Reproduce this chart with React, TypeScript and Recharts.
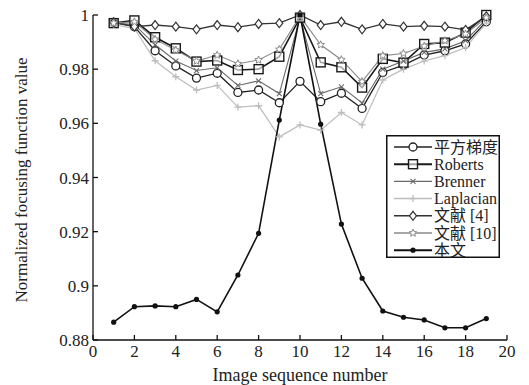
import { LineChart, Line, XAxis, YAxis, Legend } from 'recharts'

const seq = [1, 2, 3, 4, 5, 6, 7, 8, 9, 10, 11, 12, 13, 14, 15, 16, 17, 18, 19]

const squareGrad = [0.9973, 0.9957, 0.9868, 0.9812, 0.9767, 0.9785, 0.9714, 0.9723, 0.9676, 0.9755, 0.968, 0.9711, 0.9655, 0.9788, 0.9815, 0.9852, 0.9868, 0.9893, 0.9975]
const roberts = [0.997, 0.998, 0.9918, 0.9877, 0.9828, 0.9832, 0.9797, 0.98, 0.9846, 0.999, 0.9825, 0.9807, 0.9732, 0.9838, 0.9824, 0.9893, 0.9898, 0.9935, 1.0]
const brenner = [0.997, 0.9965, 0.989, 0.983, 0.9795, 0.9805, 0.974, 0.9757, 0.971, 0.999, 0.971, 0.9735, 0.9675, 0.98, 0.983, 0.9862, 0.9875, 0.9905, 0.9985]
const laplacian = [0.9965, 0.995, 0.9831, 0.9772, 0.9723, 0.974, 0.966, 0.9665, 0.955, 0.9594, 0.9575, 0.964, 0.9594, 0.976, 0.98, 0.983, 0.985, 0.988, 0.997]
const ref4 = [0.9973, 0.9957, 0.9963, 0.9957, 0.9947, 0.9963, 0.9955, 0.9967, 0.997, 1.0, 0.9963, 0.9975, 0.9947, 0.9967, 0.9957, 0.996, 0.9957, 0.9945, 0.9995]
const ref10 = [0.997, 0.9975, 0.991, 0.987, 0.983, 0.9852, 0.982, 0.9834, 0.9873, 0.9995, 0.989, 0.9835, 0.9754, 0.985, 0.9858, 0.9885, 0.9905, 0.993, 0.999]
const ours = [0.8866, 0.8923, 0.8926, 0.8923, 0.895, 0.8904, 0.904, 0.9194, 0.9612, 1.0, 0.9597, 0.9228, 0.9028, 0.8907, 0.8884, 0.8874, 0.8845, 0.8845, 0.8879]

const xTicks = [0, 2, 4, 6, 8, 10, 12, 14, 16, 18, 20]
const yTicks = [0.88, 0.9, 0.92, 0.94, 0.96, 0.98, 1]

const data = seq.map((n, i) => ({
  n,
  sq: squareGrad[i],
  rob: roberts[i],
  bren: brenner[i],
  lap: laplacian[i],
  r4: ref4[i],
  r10: ref10[i],
  ours: ours[i],
}))

type Shape = 'circle' | 'square' | 'cross' | 'plus' | 'diamond' | 'star' | 'dot'

const series: { key: string; name: string; color: string; shape: Shape; width: number }[] = [
  { key: 'sq', name: '平方梯度', color: '#222', shape: 'circle', width: 1.3 },
  { key: 'rob', name: 'Roberts', color: '#1a1a1a', shape: 'square', width: 1.6 },
  { key: 'bren', name: 'Brenner', color: '#6a6a6a', shape: 'cross', width: 1.1 },
  { key: 'lap', name: 'Laplacian', color: '#bdbdbd', shape: 'plus', width: 1.2 },
  { key: 'r4', name: '文献 [4]', color: '#333', shape: 'diamond', width: 1.3 },
  { key: 'r10', name: '文献 [10]', color: '#8a8a8a', shape: 'star', width: 1.1 },
  { key: 'ours', name: '本文', color: '#111', shape: 'dot', width: 1.6 },
]

const FONT = 'Liberation Serif, Noto Sans CJK SC, serif'

function Marker({ cx, cy, shape, color }: { cx: number; cy: number; shape: Shape; color: string }) {
  switch (shape) {
    case 'circle':
      return <circle cx={cx} cy={cy} r={4} fill="#fff" stroke={color} strokeWidth={1.3} />
    case 'square':
      return <rect x={cx - 4.5} y={cy - 4.5} width={9} height={9} fill="#fff" fillOpacity={0.6} stroke={color} strokeWidth={1.4} />
    case 'cross':
      return <path d={`M${cx - 2.5},${cy - 2.5}L${cx + 2.5},${cy + 2.5}M${cx - 2.5},${cy + 2.5}L${cx + 2.5},${cy - 2.5}`} stroke={color} strokeWidth={1.1} />
    case 'plus':
      return <path d={`M${cx - 3.5},${cy}L${cx + 3.5},${cy}M${cx},${cy - 3.5}L${cx},${cy + 3.5}`} stroke={color} strokeWidth={1.3} />
    case 'diamond':
      return <path d={`M${cx},${cy - 4.5}L${cx + 3.5},${cy}L${cx},${cy + 4.5}L${cx - 3.5},${cy}Z`} fill="#fff" stroke={color} strokeWidth={1.2} />
    case 'star': {
      const pts: string[] = []
      for (let k = 0; k < 10; k++) {
        const r = k % 2 === 0 ? 4 : 1.8
        const a = -Math.PI / 2 + (k * Math.PI) / 5
        pts.push(`${cx + r * Math.cos(a)},${cy + r * Math.sin(a)}`)
      }
      return <polygon points={pts.join(' ')} fill="#fff" stroke={color} strokeWidth={1} />
    }
    default:
      return <circle cx={cx} cy={cy} r={2.6} fill={color} />
  }
}

// legend drawn as svg so the text uses the same fonts as the axes
const renderLegend = () => (
  <svg width={114} height={123} style={{ display: 'block' }}>
    <rect x={0.75} y={0.75} width={112.5} height={121.5} fill="#fff" stroke="#111" strokeWidth={1.5} />
    {series.map((s, i) => {
      const y = 12 + i * 17.2
      return (
        <g key={s.key}>
          <line x1={8} x2={46} y1={y} y2={y} stroke={s.color} strokeWidth={s.width + 0.3} />
          <Marker cx={27} cy={y} shape={s.shape} color={s.color} />
          <text x={48} y={y} dominantBaseline="central" fontSize={16} fontFamily={FONT} fill="#222">
            {s.name}
          </text>
        </g>
      )
    })}
  </svg>
)

const tickStyle = { fill: '#222', fontSize: 17, fontFamily: FONT }

export default function App() {
  return (
    <div style={{ width: 529, height: 385, background: '#fff' }}>
      <style>{'body{margin:0}'}</style>
      <LineChart width={529} height={385} data={data} margin={{ top: 15, right: 22, bottom: 0, left: 0 }}>
        <XAxis
          dataKey="n"
          type="number"
          domain={[0, 20]}
          ticks={xTicks}
          interval={0}
          height={45}
          tickSize={-5}
          tickMargin={10}
          tick={tickStyle}
          stroke="#111"
          strokeWidth={1.3}
          label={{ value: 'Image sequence number', position: 'insideBottom', offset: 4, style: { fill: '#222', fontSize: 18, fontFamily: FONT } }}
        />
        <XAxis xAxisId="top" orientation="top" dataKey="n" type="number" domain={[0, 20]} ticks={xTicks} height={0} tickSize={-5} tick={false} stroke="#111" strokeWidth={1.3} />
        <YAxis
          type="number"
          domain={[0.88, 1]}
          ticks={yTicks}
          interval={0}
          width={93}
          tickSize={-5}
          tickMargin={9}
          tick={tickStyle}
          tickFormatter={(v: number) => String(+v.toFixed(2))}
          stroke="#111"
          strokeWidth={1.3}
          label={{
            content: () => (
              <text x={23} y={180} transform="rotate(-90 23 180)" textAnchor="middle" dominantBaseline="middle" fill="#222" fontSize={17} fontFamily={FONT}>
                Normalized focusing function value
              </text>
            ),
          }}
        />
        <YAxis yAxisId="right" orientation="right" type="number" domain={[0.88, 1]} ticks={yTicks} width={0} tickSize={-5} tick={false} stroke="#111" strokeWidth={1.3} />
        <Legend
          layout="horizontal"
          align="center"
          verticalAlign="middle"
          content={renderLegend}
          wrapperStyle={{ position: 'absolute', left: 386, top: 135, width: 114, height: 123 }}
        />
        {series.map((s) => (
          <Line
            key={s.key}
            dataKey={s.key}
            name={s.name}
            stroke={s.color}
            strokeWidth={s.width}
            isAnimationActive={false}
            dot={(p: any) => (
              <g key={`${s.key}-${p.index}`}>
                <Marker cx={p.cx} cy={p.cy} shape={s.shape} color={s.color} />
              </g>
            )}
            activeDot={false}
          />
        ))}
      </LineChart>
    </div>
  )
}
